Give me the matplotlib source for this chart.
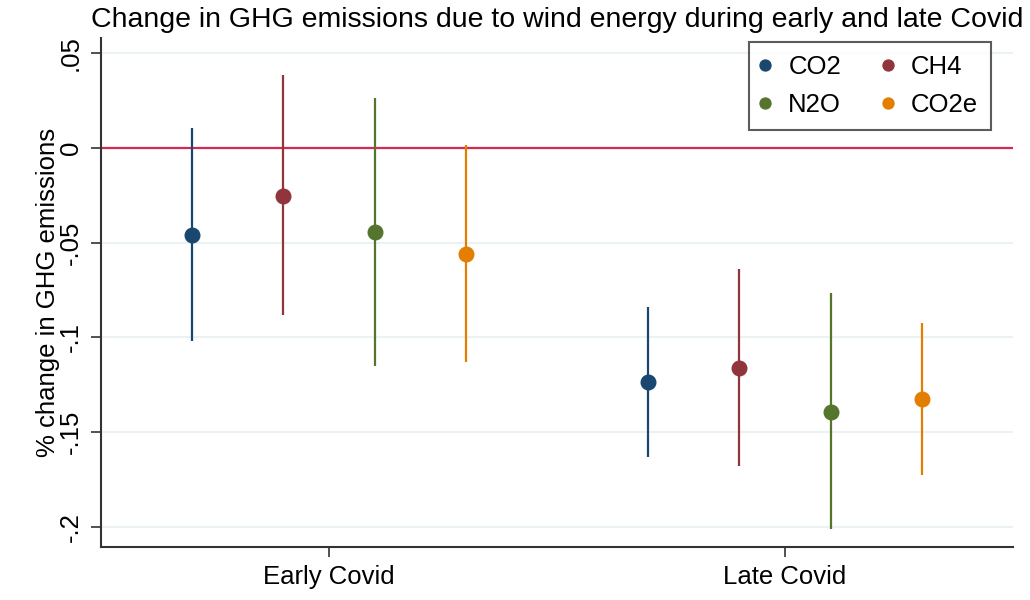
import numpy as np
import matplotlib.pyplot as plt

plt.rcParams['font.family'] = ['Liberation Sans', 'DejaVu Sans']

# Coefficients and 95% CIs per gas, for early and late Covid
periods = ["Early Covid", "Late Covid"]
gases = ["CO2", "CH4", "N2O", "CO2e"]
colors = ["#1a476f", "#90353b", "#55752f", "#e37e00"]

coef = {
    "CO2":  [-0.0459, -0.1235],
    "CH4":  [-0.0253, -0.1160],
    "N2O":  [-0.0445, -0.1394],
    "CO2e": [-0.0560, -0.1325],
}
ci_low = {
    "CO2":  [-0.1019, -0.1633],
    "CH4":  [-0.0885, -0.1677],
    "N2O":  [-0.1151, -0.2013],
    "CO2e": [-0.1132, -0.1726],
}
ci_high = {
    "CO2":  [0.0104, -0.0838],
    "CH4":  [0.0385, -0.0637],
    "N2O":  [0.0262, -0.0767],
    "CO2e": [0.0014, -0.0922],
}
offsets = [-0.3, -0.1, 0.1, 0.3]

yticks = [0.05, 0, -0.05, -0.1, -0.15, -0.2]
yticklabels = [".05", "0", "-.05", "-.1", "-.15", "-.2"]

fig = plt.figure(figsize=(10.3, 6), dpi=100)
ax = fig.add_axes([0.098, 0.089, 0.8855, 0.848])

x = np.arange(len(periods))
handles = {}
for gas, col, off in zip(gases, colors, offsets):
    ax.vlines(x + off, ci_low[gas], ci_high[gas], color=col, lw=1.6, zorder=3)
    h, = ax.plot(x + off, coef[gas], 'o', color=col, ms=10.5, zorder=4,
                 label=gas, linestyle='none')
    handles[gas] = h

ax.axhline(0, color="#d42a4f", lw=1.6, zorder=2)

ax.set_xlim(-0.5, 1.5)
ax.set_ylim(-0.2105, 0.0581)
ax.set_xticks(x)
ax.set_xticklabels(periods, fontsize=18.5)
ax.set_yticks(yticks)
ax.set_yticklabels(yticklabels, fontsize=18.5, rotation=90, va='center')
for t in yticks:
    ax.axhline(t, color="#eaf2f3", lw=1.5, zorder=1)

for side in ["top", "right"]:
    ax.spines[side].set_visible(False)
for side in ["left", "bottom"]:
    ax.spines[side].set_color("#333333")
    ax.spines[side].set_linewidth(1.5)
ax.tick_params(axis='both', length=7, width=1.2, color="#333333", pad=6)

ax.set_ylabel("% change in GHG emissions", fontsize=18.5, labelpad=-1)
ax.set_title("Change in GHG emissions due to wind energy during early and late Covid",
             fontsize=20.5, pad=8)

# legend filled row-wise: CO2, CH4 / N2O, CO2e
order = ["CO2", "N2O", "CH4", "CO2e"]
leg = ax.legend([handles[g] for g in order], order, ncol=2, loc='upper right',
                bbox_to_anchor=(991 / 1030, 1 - 42 / 600),
                bbox_transform=fig.transFigure, borderaxespad=0,
                fontsize=18.5, frameon=True, fancybox=False,
                edgecolor="#333333", markerscale=0.75,
                handletextpad=0.77, columnspacing=1.7, borderpad=0.5,
                labelspacing=0.55, handlelength=0.25)
leg.get_frame().set_linewidth(1.5)

fig.savefig("out.png", dpi=100, facecolor="white")
